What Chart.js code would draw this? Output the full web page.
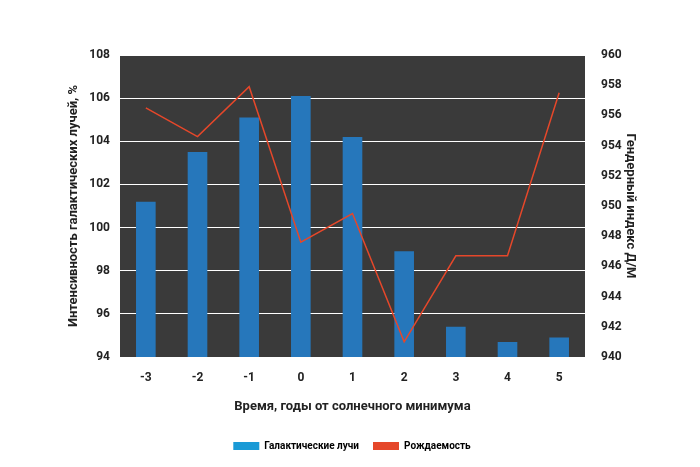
<!DOCTYPE html>
<html><head><meta charset="utf-8">
<script src="https://cdn.jsdelivr.net/npm/chart.js@4"></script>
<style>body{margin:0;background:#fff}#wrap{width:700px;height:467px}</style>
</head><body>
<div id="wrap"><canvas id="c"></canvas></div>
<script>
const years = ['-3','-2','-1','0','1','2','3','4','5'];
const rays = [101.2, 103.5, 105.1, 106.1, 104.2, 98.9, 95.4, 94.7, 94.9];
const births = [956.5, 954.6, 957.9, 947.6, 949.5, 941.0, 946.7, 946.7, 957.5];

// dark plot background
const plotBg = {
  id:'plotBg',
  beforeDraw(ch){
    const a = ch.chartArea, x = ch.ctx;
    x.save(); x.fillStyle = '#3a3a3a';
    x.fillRect(a.left, a.top, a.right-a.left, a.bottom-a.top);
    x.restore();
  }
};

Chart.defaults.font.family = 'Roboto';
Chart.defaults.font.weight = 'bold';
Chart.defaults.color = '#222';

new Chart(document.getElementById('c'), {
  type:'bar',
  data:{
    labels: years,
    datasets:[
      {label:'Галактические лучи', data:rays, backgroundColor:'#2677bb', yAxisID:'y', barPercentage:0.38, categoryPercentage:1, order:2},
      {label:'Рождаемость', type:'line', data:births, borderColor:'#e5472a', backgroundColor:'#e5472a', borderWidth:1.5, pointRadius:0, tension:0, yAxisID:'y1', order:1}
    ]
  },
  options:{
    responsive:true, maintainAspectRatio:false, animation:false,
    layout:{padding:{top:55,bottom:6,left:62,right:58}},
    plugins:{
      legend:{position:'bottom', labels:{boxWidth:26, boxHeight:8, padding:14, font:{size:10},
        generateLabels(ch){
          return [{text:'Галактические лучи', fillStyle:'#1a9ad6', strokeStyle:'#1a9ad6', lineWidth:0, datasetIndex:0},
                  {text:'Рождаемость', fillStyle:'#e5472a', strokeStyle:'#e5472a', lineWidth:0, datasetIndex:1}];
        }}},
      tooltip:{enabled:false}
    },
    scales:{
      x:{grid:{display:false}, border:{display:false}, ticks:{font:{size:12}, color:'#222', padding:6},
         title:{display:true, text:'Время, годы от солнечного минимума', font:{size:13}, color:'#222', padding:{top:8,bottom:12}}},
      y:{position:'left', min:94, max:108, ticks:{stepSize:2, font:{size:12}, color:'#222', padding:10},
         grid:{color:'#ffffff', lineWidth:1, drawTicks:false}, border:{display:false},
         title:{display:true, text:'Интенсивность галактических лучей, %', font:{size:13}, color:'#222', padding:4},
         afterFit(s){s.width = 58;}},
      y1:{position:'right', min:940, max:960, ticks:{stepSize:2, font:{size:12}, color:'#222', padding:8},
         grid:{display:false}, border:{display:false},
         title:{display:true, text:'Гендерный индекс Д/М', font:{size:13}, color:'#222', padding:4},
         afterFit(s){s.width = 57;}}
    }
  },
  plugins:[plotBg]
});
</script>
</body></html>
